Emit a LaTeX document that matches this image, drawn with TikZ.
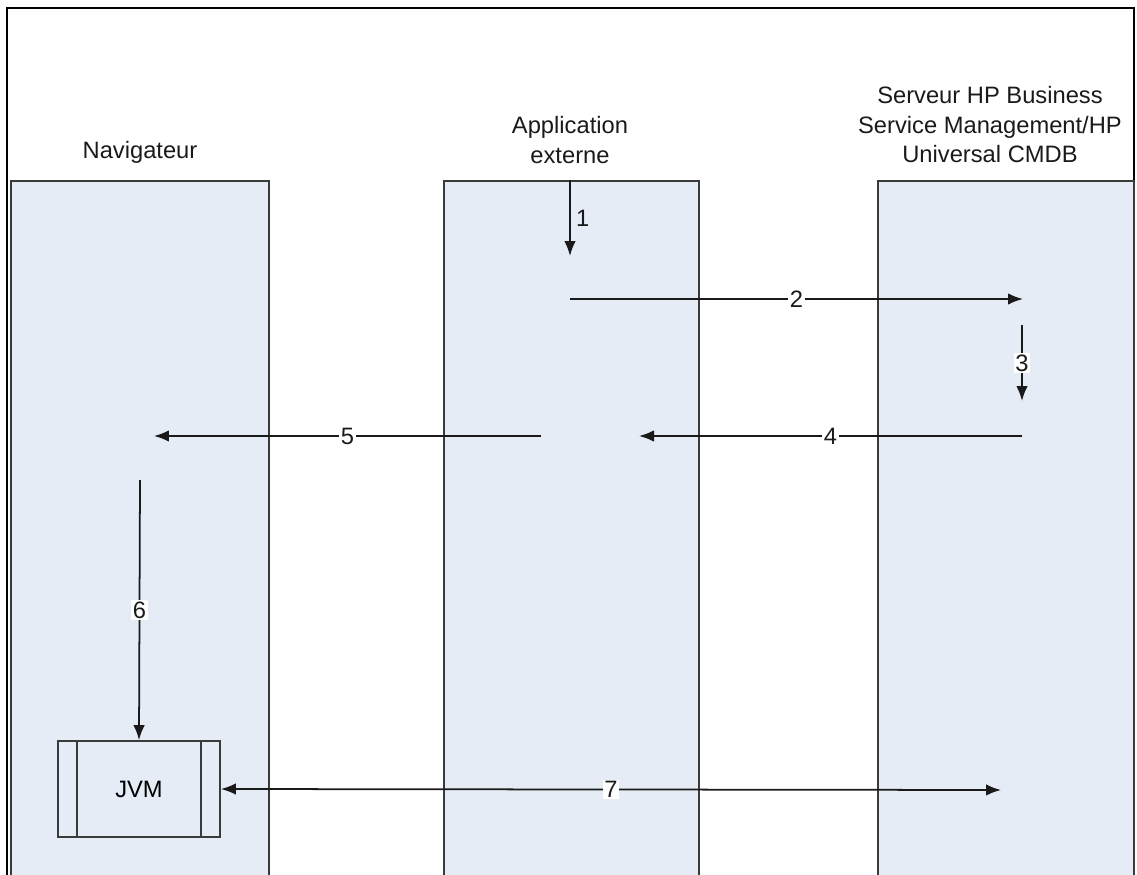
\documentclass[tikz,border=0pt]{standalone}
\usepackage{fontspec}
\setmainfont{Liberation Sans}
\usetikzlibrary{arrows.meta,positioning}
\definecolor{lanefill}{HTML}{E5ECF6}
\definecolor{laneedge}{HTML}{3A3A3A}
\definecolor{ink}{HTML}{1A1A1A}
\tikzset{
  lane/.style={draw=laneedge, fill=lanefill, line width=1pt, anchor=north west,
               minimum height=14.6cm, inner sep=0pt},
  title/.style={align=center, text=ink, font=\fontsize{13.5}{16.8}\selectfont},
  arrow/.style={-{Latex[length=3mm,width=2.3mm]}, line width=1pt, draw=ink},
  num/.style={fill=white, inner sep=1pt, text=ink, font=\fontsize{13.5}{16}\selectfont},
  jvmbox/.style={draw=laneedge, fill=lanefill, line width=1pt, minimum width=3.24cm,
                 minimum height=1.92cm, inner sep=0pt, font=\fontsize{13.5}{16}\selectfont}
}

\begin{document}
\begin{tikzpicture}[x=0.02cm,y=-0.02cm,>=Latex]
        \useasboundingbox (0,0) rectangle (1137,875);
        \draw[line width=1.3pt] (7,890) -- (7,8) -- (1134,8) -- (1134,890);

        % lanes
        \node[lane,minimum width=5.16cm] (nav) at (10,180) {};
        \node[lane,minimum width=5.10cm] (app) at (443,180) {};
        \node[lane,minimum width=5.12cm] (srv) at (877,180) {};

        \node[title] (navlab) at (140,152) {Navigateur};
        \node[title] (applab) at (570,140) {Application\\externe};
        \node[title] (srvlab) at (990,125) {Serveur HP Business\\Service Management/HP\\Universal CMDB};

        % JVM
        \node[jvmbox] (jvm) at (139,789) {JVM};
        \draw[draw=laneedge,line width=1pt] ([xshift=0.4cm]jvm.north west) -- ([xshift=0.4cm]jvm.south west)
          ([xshift=-0.4cm]jvm.north east) -- ([xshift=-0.4cm]jvm.south east);

        % end points
        \coordinate (s1) at (570,180);  \coordinate (e1) at (570,256);
        \coordinate (s2) at (570,299);  \coordinate (e2) at (1023,299);
        \coordinate (s3) at (1022,325); \coordinate (e3) at (1022,401);
        \coordinate (s4) at (1022,436); \coordinate (e4) at (639,436);
        \coordinate (s5) at (541,436);  \coordinate (e5) at (154,436);
        \coordinate (s6) at (140,480);
        \coordinate (e7) at (1001,790);

        % messages
        \draw[arrow] (s1) -- (e1) node[midway,right,text=ink,inner sep=3pt,font=\fontsize{13.5}{16}\selectfont] (n1) {1};
        \draw[arrow] (s2) -- (e2) node[midway,num] (n2) {2};
        \draw[arrow] (s3) -- (e3) node[midway,num] (n3) {3};
        \draw[arrow] (s4) -- (e4) node[midway,num] (n4) {4};
        \draw[arrow] (s5) -- (e5) node[midway,num] (n5) {5};
        \draw[arrow] (s6) -- (jvm.north) node[midway,num] (n6) {6};
        \draw[arrow,{Latex[length=3mm,width=2.3mm]}-{Latex[length=3mm,width=2.3mm]}] (jvm.east) -- (e7) node[midway,num] (n7) {7};
      \end{tikzpicture}
\end{document}
